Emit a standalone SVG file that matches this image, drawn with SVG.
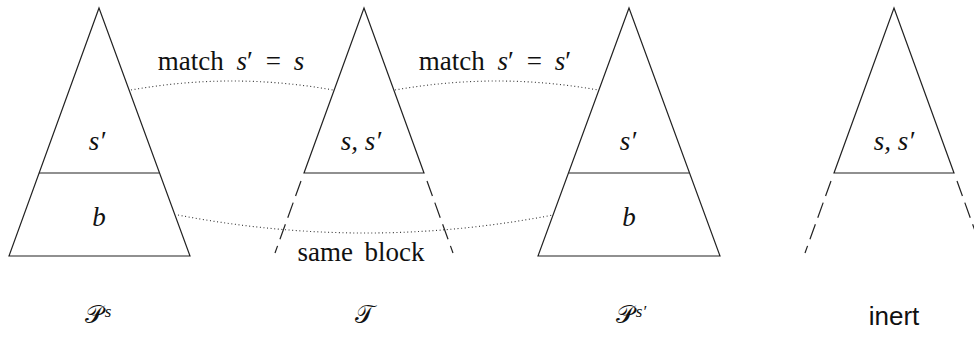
<svg xmlns="http://www.w3.org/2000/svg" width="974" height="337" viewBox="0 0 974 337">
<style>
.edge{fill:none;stroke:#222;stroke-width:1.2}
.dash{fill:none;stroke:#222;stroke-width:1.2;stroke-dasharray:16 7}
.dot{fill:none;stroke:#333;stroke-width:1.1;stroke-dasharray:1 2.6}
.t{font-family:"Liberation Serif","DejaVu Serif",serif;font-size:27px;fill:#111;text-anchor:middle}
.m{font-style:italic}
.s{font-family:"Liberation Sans","DejaVu Sans",sans-serif;font-size:26px;fill:#111;text-anchor:middle}
.c{font-family:"DejaVu Sans","Noto Sans",serif;font-size:25px;fill:#111;text-anchor:middle}
.sup{font-family:"Liberation Serif",serif;font-style:italic;font-size:17px}
</style>
<rect width="974" height="337" fill="#fff"/>
<g id="connectors">
<path class="dot" d="M131,90 Q232,72 333,90"/>
<path class="dot" d="M395,90 Q497,72 598,90"/>
<path class="dot" d="M178,215 Q365,251 553,215"/>
<text class="t" x="231" y="70" word-spacing="6">match <tspan class="m">s</tspan>′ = <tspan class="m">s</tspan></text>
<text class="t" x="495" y="70" word-spacing="6">match <tspan class="m">s</tspan>′ = <tspan class="m">s</tspan>′</text>
<text class="t" x="361" y="261" word-spacing="5">same block</text>
</g>
<g id="Ps">
<path class="edge" d="M99,8 L9,256 L190,256 Z"/>
<line class="edge" x1="39" y1="173" x2="159" y2="173"/>
<text class="t m" x="97" y="150">s′</text>
<text class="t m" x="99" y="226">b</text>
<text class="c" x="98" y="323">𝒫<tspan class="sup" dx="2" dy="-6">s</tspan></text>
</g>
<g id="T">
<path class="edge" d="M304,173 L364,8 L424,173 Z"/>
<path class="dash" d="M301,181 L275,253"/>
<path class="dash" d="M427,181 L453,253"/>
<text class="t m" x="361" y="150">s, s′</text>
<text class="c" x="364" y="323">𝒯</text>
</g>
<g id="Ps2">
<path class="edge" d="M629,8 L538,256 L720,256 Z"/>
<line class="edge" x1="569" y1="173" x2="689" y2="173"/>
<text class="t m" x="628" y="150">s′</text>
<text class="t m" x="629" y="226">b</text>
<text class="c" x="631" y="323">𝒫<tspan class="sup" dx="2" dy="-6">s′</tspan></text>
</g>
<g id="inert">
<path class="edge" d="M834,173 L894,8 L954,173 Z"/>
<path class="dash" d="M831,181 L805,253"/>
<path class="dash" d="M957,181 L983,253"/>
<text class="t m" x="894" y="150">s, s′</text>
<text class="s" x="894" y="325">inert</text>
</g>
</svg>
